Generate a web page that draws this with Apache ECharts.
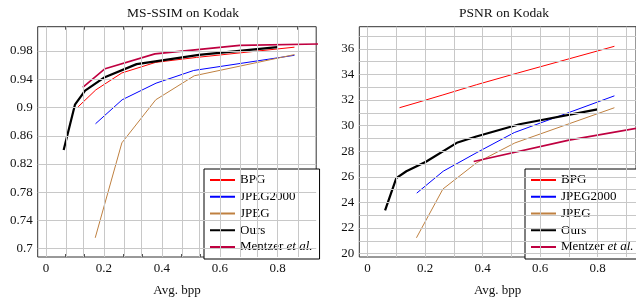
<!DOCTYPE html>
<html>
<head>
<meta charset="utf-8">
<script src="https://cdn.jsdelivr.net/npm/echarts@6.0.0/dist/echarts.min.js"></script>
<style>
  html, body { margin: 0; padding: 0; background: #fff; }
  #chart { width: 636px; height: 302px; }
</style>
</head>
<body>
<div id="chart"></div>
<script>
// values
const bpgBpp = [0.111, 0.172, 0.262, 0.379, 0.52, 0.858];
const bpgSsim = [0.901, 0.925, 0.949, 0.964, 0.971, 0.9855];
const bpgPsnr = [31.4, 31.8, 32.4, 33.2, 34.1, 36.2];

const j2kBpp = [0.171, 0.263, 0.38, 0.51, 0.858];
const j2kSsim = [0.877, 0.911, 0.9345, 0.9525, 0.974];
const j2kPsnr = [24.73, 26.44, 27.9, 29.46, 32.33];

const jpegBpp = [0.17, 0.262, 0.379, 0.512, 0.858];
const jpegSsim = [0.7155, 0.85, 0.911, 0.945, 0.975];
const jpegPsnr = [21.24, 25.05, 27.1, 28.65, 31.4];

const oursBpp = [0.061, 0.1, 0.135, 0.203, 0.313, 0.378, 0.528, 0.799];
const oursSsim = [0.84, 0.904, 0.924, 0.943, 0.9615, 0.9655, 0.9745, 0.9855];
const oursPsnr = [23.38, 25.9, 26.44, 27.18, 28.69, 29.15, 30.11, 31.27];

const mentzerSsimBpp = [0.127, 0.204, 0.376, 0.669, 1.0];
const mentzerSsim = [0.9285, 0.955, 0.976, 0.988, 0.9905];
const mentzerPsnrBpp = [0.369, 0.7, 1.0];
const mentzerPsnr = [27.2, 28.87, 30.05];

const bppTicks = [0, 0.2, 0.4, 0.6, 0.8];
const ssimTicks = [0.7, 0.74, 0.78, 0.82, 0.86, 0.9, 0.94, 0.98];
const psnrTicks = [20, 22, 24, 26, 28, 30, 32, 34, 36];

const names = ["BPG", "JPEG2000", "JPEG", "Ours", "Mentzer et al."];
const colors = ["#ff0000", "#0000ff", "#bf8040", "#000000", "#bf0040"];
const widths = [1, 1, 1, 2.2, 1.6];

// grid line positions
const ssimGridX = [];
for (let i = 0; i <= 13; i++) ssimGridX.push(i * 0.2 / 3);
const psnrGridX = [];
for (let i = 0; i <= 9; i++) psnrGridX.push(i / 10);
const psnrGridY = [];
for (let i = 20; i <= 37; i++) psnrGridY.push(i);

const FONT = "Liberation Serif";
const X_MIN = -0.0286, X_MAX = 0.933;

const zip = (xs, ys) => xs.map((x, i) => [x, ys[i]]);

const chart = echarts.init(document.getElementById("chart"));

function lineSeries(idx, xs, ys, gi) {
  return {
    name: names[idx],
    type: "line",
    xAxisIndex: gi * 2,
    yAxisIndex: gi * 2,
    data: zip(xs, ys),
    symbol: "none",
    clip: true,
    z: 3,
    lineStyle: { color: colors[idx], width: widths[idx] },
    itemStyle: { color: colors[idx] },
    animation: false,
  };
}

function gridSeries(gi, xs, ys) {
  return {
    type: "line",
    xAxisIndex: gi * 2,
    yAxisIndex: gi * 2,
    data: [],
    silent: true,
    z: 1,
    animation: false,
    markLine: {
      silent: true,
      symbol: ["none", "none"],
      label: { show: false },
      animation: false,
      lineStyle: { color: "#c8c8c8", width: 1, type: "solid" },
      data: xs.map((v) => ({ xAxis: v })).concat(ys.map((v) => ({ yAxis: v }))),
    },
  };
}

function xAxes(gi, gridTicks) {
  const base = {
    type: "value",
    gridIndex: gi,
    min: X_MIN,
    max: X_MAX,
    splitLine: { show: false },
    axisLine: { show: false },
  };
  return [
    Object.assign({}, base, {
      position: "bottom",
      axisTick: {
        inside: true, length: 3, customValues: gridTicks,
        lineStyle: { color: "#555" },
      },
      axisLabel: {
        customValues: bppTicks, margin: 5,
        fontFamily: FONT, fontSize: 13, color: "#111",
        formatter: (v) => String(+v.toFixed(1)),
      },
      name: "Avg. bpp",
      nameLocation: "middle",
      nameGap: 27,
      nameTextStyle: { fontFamily: FONT, fontSize: 13, color: "#111" },
    }),
    Object.assign({}, base, {
      position: "top",
      axisTick: {
        inside: true, length: 3, customValues: gridTicks,
        lineStyle: { color: "#555" },
      },
      axisLabel: { show: false },
    }),
  ];
}

function yAxes(gi, min, max, ticks, gridTicks, fmt) {
  const base = {
    type: "value",
    gridIndex: gi,
    min: min,
    max: max,
    splitLine: { show: false },
    axisLine: { show: false },
  };
  return [
    Object.assign({}, base, {
      position: "left",
      axisTick: {
        inside: true, length: 3, customValues: gridTicks,
        lineStyle: { color: "#555" },
      },
      axisLabel: {
        customValues: ticks, margin: 5,
        fontFamily: FONT, fontSize: 13, color: "#111",
        formatter: fmt,
      },
    }),
    Object.assign({}, base, {
      position: "right",
      axisTick: {
        inside: true, length: 3, customValues: gridTicks,
        lineStyle: { color: "#555" },
      },
      axisLabel: { show: false },
    }),
  ];
}

function legend(left) {
  return {
    data: names,
    orient: "vertical",
    left: left,
    top: 169,
    itemWidth: 25,
    itemHeight: 10,
    itemGap: 2.75,
    padding: [4, 7, 5, 5],
    backgroundColor: "#fff",
    borderColor: "#000",
    borderWidth: 1,
    borderRadius: 0,
    selectedMode: false,
    itemStyle: { opacity: 0, borderWidth: 0 },
    formatter: (n) => (n === "Mentzer et al." ? "Mentzer {i|et al.}" : n),
    textStyle: {
      fontFamily: FONT, fontSize: 13, color: "#000", lineHeight: 14,
      rich: { i: { fontFamily: FONT, fontSize: 13, fontStyle: "italic", color: "#000" } },
    },
  };
}

const ssimFmt = (v) => String(+v.toFixed(2));
const psnrFmt = (v) => String(Math.round(v));

chart.setOption({
  animation: false,
  title: [
    { text: "MS-SSIM on Kodak", left: 178, top: 1, textAlign: "center",
      textStyle: { fontFamily: FONT, fontSize: 13.5, fontWeight: "normal", color: "#111" } },
    { text: "PSNR on Kodak", left: 499, top: 1, textAlign: "center",
      textStyle: { fontFamily: FONT, fontSize: 13.5, fontWeight: "normal", color: "#111" } },
  ],
  legend: [legend(204), legend(525)],
  grid: [
    { left: 37.7, top: 26.7, width: 278.5, height: 231.6, show: true,
      borderColor: "#333", borderWidth: 1, backgroundColor: "transparent" },
    { left: 359.3, top: 26.7, width: 278.5, height: 231.6, show: true,
      borderColor: "#333", borderWidth: 1, backgroundColor: "transparent" },
  ],
  xAxis: xAxes(0, ssimGridX).concat(xAxes(1, psnrGridX)),
  yAxis: yAxes(0, 0.6883, 1.0145, ssimTicks, ssimTicks, ssimFmt)
    .concat(yAxes(1, 19.74, 37.73, psnrTicks, psnrGridY, psnrFmt)),
  series: [
    gridSeries(0, ssimGridX, ssimTicks),
    gridSeries(1, psnrGridX, psnrGridY),
    lineSeries(0, bpgBpp, bpgSsim, 0),
    lineSeries(1, j2kBpp, j2kSsim, 0),
    lineSeries(2, jpegBpp, jpegSsim, 0),
    lineSeries(3, oursBpp, oursSsim, 0),
    lineSeries(4, mentzerSsimBpp, mentzerSsim, 0),
    lineSeries(0, bpgBpp, bpgPsnr, 1),
    lineSeries(1, j2kBpp, j2kPsnr, 1),
    lineSeries(2, jpegBpp, jpegPsnr, 1),
    lineSeries(3, oursBpp, oursPsnr, 1),
    lineSeries(4, mentzerPsnrBpp, mentzerPsnr, 1),
  ],
});
</script>
</body>
</html>
